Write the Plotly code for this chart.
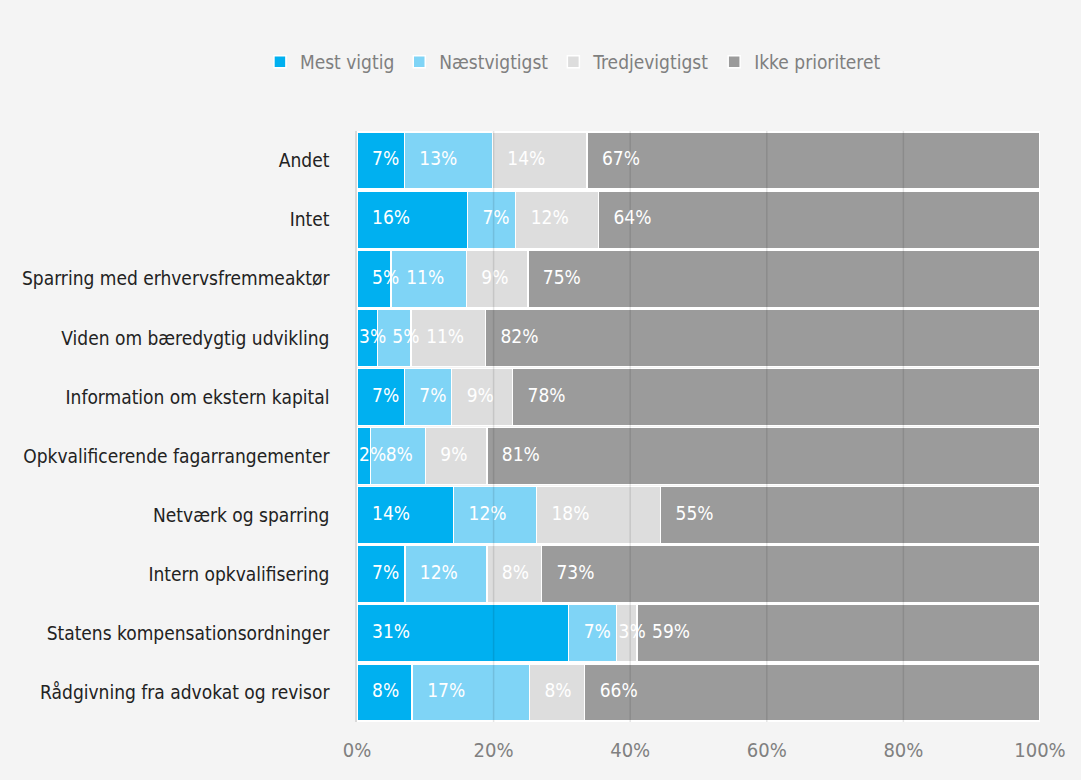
import plotly.graph_objects as go

categories = [
    "Andet",
    "Intet",
    "Sparring med erhvervsfremmeaktør",
    "Viden om bæredygtig udvikling",
    "Information om ekstern kapital",
    "Opkvalificerende fagarrangementer",
    "Netværk og sparring",
    "Intern opkvalifisering",
    "Statens kompensationsordninger",
    "Rådgivning fra advokat og revisor",
]
mest_vigtig = [7, 16, 5, 3, 7, 2, 14, 7, 31, 8]
naestvigtigst = [13, 7, 11, 5, 7, 8, 12, 12, 7, 17]
tredjevigtigst = [14, 12, 9, 11, 9, 9, 18, 8, 3, 8]
ikke_prioriteret = [67, 64, 75, 82, 78, 81, 55, 73, 59, 66]

series = [
    ("Mest vigtig", mest_vigtig, "#00B0F0"),
    ("Næstvigtigst", naestvigtigst, "#7FD4F6"),
    ("Tredjevigtigst", tredjevigtigst, "#DDDDDD"),
    ("Ikke prioriteret", ikke_prioriteret, "#9B9B9B"),
]
tick_vals = [0, 20, 40, 60, 80, 100]
tick_text = ["0%", "20%", "40%", "60%", "80%", "100%"]

FONT = "DejaVu Sans Condensed, Liberation Sans Narrow, Roboto Condensed, Noto Sans, sans-serif"
BG = "#F4F4F4"
LABEL_PAD = 2.2      # label inset from segment start (axis units)
LABEL_PAD_NARROW = 0.3

fig = go.Figure()
for name, vals, color in series:
    fig.add_trace(go.Bar(
        y=categories, x=vals, name=name, orientation="h",
        marker=dict(color=color, line=dict(color="white", width=1.5)),
        hoverinfo="skip",
    ))

# data labels, drawn above all bars, anchored at each (normalised) segment's base
totals = [sum(s[1][i] for s in series) for i in range(len(categories))]
running = [0.0] * len(categories)
for name, vals, color in series:
    xs, txt = [], []
    for i, v in enumerate(vals):
        start = running[i] / totals[i] * 100
        pad = LABEL_PAD if v > 3 else LABEL_PAD_NARROW
        xs.append(start + pad)
        txt.append(f"{v}%")
        running[i] += v
    fig.add_trace(go.Scatter(
        x=xs, y=categories, mode="text", text=txt, textposition="middle right",
        textfont=dict(family=FONT, size=19, color="white"),
        showlegend=False, hoverinfo="skip", cliponaxis=False,
    ))

for v in tick_vals[1:-1]:
    fig.add_shape(type="line", xref="x", yref="paper", x0=v, x1=v, y0=0, y1=1,
                  line=dict(color="rgba(0,0,0,0.10)", width=1.5), layer="above")

fig.update_layout(
    barmode="stack",
    barnorm="percent",
    bargap=0.03,
    width=1081, height=780,
    paper_bgcolor=BG, plot_bgcolor=BG,
    margin=dict(l=357, r=41, t=131, b=58),
    legend=dict(orientation="h", x=0.53, xref="container", xanchor="center",
                y=0.945, yref="container", yanchor="top",
                font=dict(family=FONT, size=19, color="#7F7F7F"),
                traceorder="normal", bgcolor="rgba(0,0,0,0)"),
    showlegend=True,
    font=dict(family=FONT),
)
fig.update_xaxes(range=[0, 100], tickvals=tick_vals, ticktext=tick_text,
                 showgrid=False, zeroline=False, showline=False,
                 tickfont=dict(family=FONT, size=20, color="#808080"), ticklen=0,
                 ticklabelstandoff=14)
fig.update_yaxes(autorange="reversed", showline=True, linecolor="#D9D9D9", linewidth=1.5,
                 tickfont=dict(family=FONT, size=19, color="#222222"), ticklen=0,
                 ticklabelstandoff=22)

fig.write_html("out.html")
